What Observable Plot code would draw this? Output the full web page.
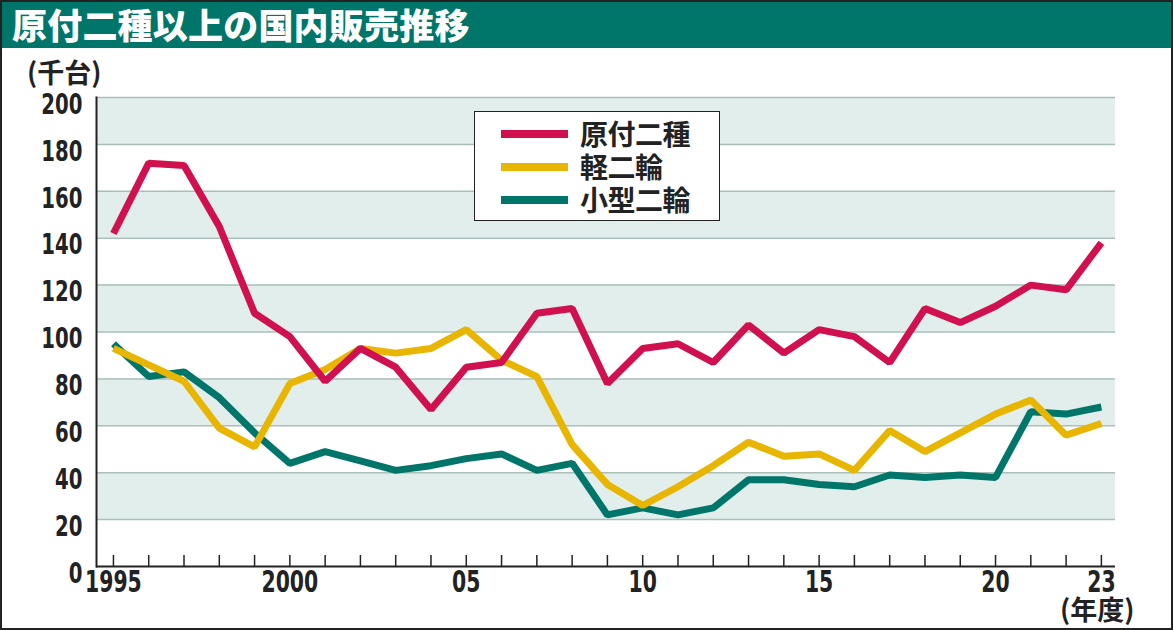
<!DOCTYPE html>
<html>
<head>
<meta charset="utf-8">
<script src="https://cdn.jsdelivr.net/npm/d3@7"></script>
<script src="https://cdn.jsdelivr.net/npm/@observablehq/plot@0.6"></script>
<style>
  html, body { margin: 0; padding: 0; background: #fff; }
  #wrap { position: relative; width: 1173px; height: 630px; overflow: hidden; background: #fff; }
  #title { position: absolute; left: 0; top: 0; width: 1173px; height: 48px; background: #00766a;
    color: #fff; font-family: "Noto Sans CJK JP", sans-serif; font-weight: 900; font-size: 35px;
    line-height: 48px; padding-left: 12px; box-sizing: border-box; letter-spacing: 0.2px; }
  #chart { position: absolute; left: 0; top: 48px; }
  .lab { position: absolute; font-family: "Noto Sans CJK JP", sans-serif; font-weight: 700; color: #222; white-space: nowrap; }
  #legend { position: absolute; left: 474px; top: 111px; width: 246px; height: 110px; box-sizing: border-box;
    border: 1.5px solid #222; background: #fff; padding-top: 5px; }
  .row { display: flex; align-items: center; height: 33px; }
  .sw { width: 67px; height: 8px; margin-left: 26px; margin-right: 12px; }
  .rt { font-family: "Noto Sans CJK JP", sans-serif; font-weight: 700; font-size: 28px; color: #222; line-height: 33px; letter-spacing: -0.5px; }
  #border { position: absolute; left: 0; top: 0; width: 1173px; height: 630px; box-sizing: border-box; border: 2px solid #222; pointer-events: none; }
</style>
</head>
<body>
<div id="wrap">
  <div id="title">原付二種以上の国内販売推移</div>
  <div id="chart"></div>
  <div class="lab" style="left:27px; top:52px; font-size:27px;">(千台)</div>
  <div class="lab" style="left:1060px; top:589px; font-size:27px;">(年度)</div>
  <div id="legend"></div>
  <div id="border"></div>
</div>
<script>
const years = d3.range(1995, 2024);
const seriesNames = ["原付二種", "軽二輪", "小型二輪"];
const colors = ["#d0104f", "#e8b500", "#00766a"];

const gentsuki2 = [142, 172, 171, 145, 108, 98, 79, 93, 85, 67, 85, 87, 108, 110, 78, 93, 95, 87, 103, 91, 101, 98, 87, 110, 104, 111, 120, 118, 138];
const keiNirin = [93, 86, 79, 59, 51, 78, 84, 93, 91, 93, 101, 88, 81, 52, 35, 26, 34, 43, 53, 47, 48, 41, 58, 49, 57, 65, 71, 56, 61];
const kogataNirin = [95, 81, 83, 72, 57, 44, 49, 45, 41, 43, 46, 48, 41, 44, 22, 25, 22, 25, 37, 37, 35, 34, 39, 38, 39, 38, 66, 65, 68];

const yTicks = d3.range(0, 201, 20);
const gridTicks = yTicks.filter(d => d > 0);
const bandStarts = [20, 60, 100, 140, 180];
const xLabelYears = [1995, 2000, 2005, 2010, 2015, 2020, 2023];
const xLabel = y => y === 1995 || y === 2000 ? String(y) : String(y % 100).padStart(2, "0");

const valuesBySeries = [gentsuki2, keiNirin, kogataNirin];
const rows = [];
seriesNames.forEach((s, i) => years.forEach((y, j) => rows.push({series: s, year: y, value: valuesBySeries[i][j]})));

const drawOrder = ["小型二輪", "軽二輪", "原付二種"];
const W = 1173, H = 582;
const mTop = 49, mBottom = 64;
const frameH = H - mTop - mBottom;

const numFont = '"DejaVu Sans", sans-serif';

const chart = Plot.plot({
  width: W,
  height: H,
  marginTop: mTop,
  marginBottom: mBottom,
  marginLeft: 96,
  marginRight: 58,
  style: { fontFamily: numFont, fontWeight: "bold", color: "#222", background: "transparent" },
  x: { type: "linear", domain: [1995 - 0.48, 2023 + 0.4], label: null },
  y: { domain: [0, 200], label: null },
  marks: [
    Plot.rect(bandStarts, { y1: d => d, y2: d => d + 20, fill: "#e1eeec" }),
    Plot.ruleY(gridTicks, { stroke: "#a9bfb8", strokeWidth: 1.5 }),
    ...drawOrder.map(name => Plot.line(rows.filter(r => r.series === name), {
      x: "year", y: "value",
      stroke: colors[seriesNames.indexOf(name)],
      strokeWidth: 7, strokeLinejoin: "miter", strokeLinecap: "butt"
    })),
    Plot.tickX(years, { x: d => d, insetTop: frameH - 11, stroke: "#222", strokeWidth: 1.5 }),
    Plot.ruleY([0], { stroke: "#222", strokeWidth: 2 }),
    Plot.frame({ anchor: "left", stroke: "#222", strokeWidth: 2 }),
    Plot.axisY({ ticks: yTicks, tickSize: 0, tickPadding: 14, fontSize: 29, dy: 7, tickFormat: d => String(d), fontWeight: "bold", label: null }),
    Plot.axisX({ ticks: xLabelYears, tickSize: 0, tickPadding: 4, fontSize: 30, tickFormat: xLabel, fontWeight: "bold", label: null })
  ]
});
document.getElementById("chart").appendChild(chart);

// condense the numeric tick labels horizontally
const squeeze = 0.68;
d3.select(chart).selectAll("g[aria-label='y-axis tick label'] text, g[aria-label='x-axis tick label'] text").each(function () {
  const xa = this.getAttribute("x");
  if (xa != null) this.setAttribute("x", +xa / squeeze);
  const t = this.getAttribute("transform") || "";
  this.setAttribute("transform", (t + ` scale(${squeeze},1)`).trim());
});

const legend = document.getElementById("legend");
seriesNames.forEach((s, i) => {
  const row = document.createElement("div");
  row.className = "row";
  row.innerHTML = `<div class="sw" style="background:${colors[i]}"></div><div class="rt">${s}</div>`;
  legend.appendChild(row);
});
</script>
</body>
</html>
